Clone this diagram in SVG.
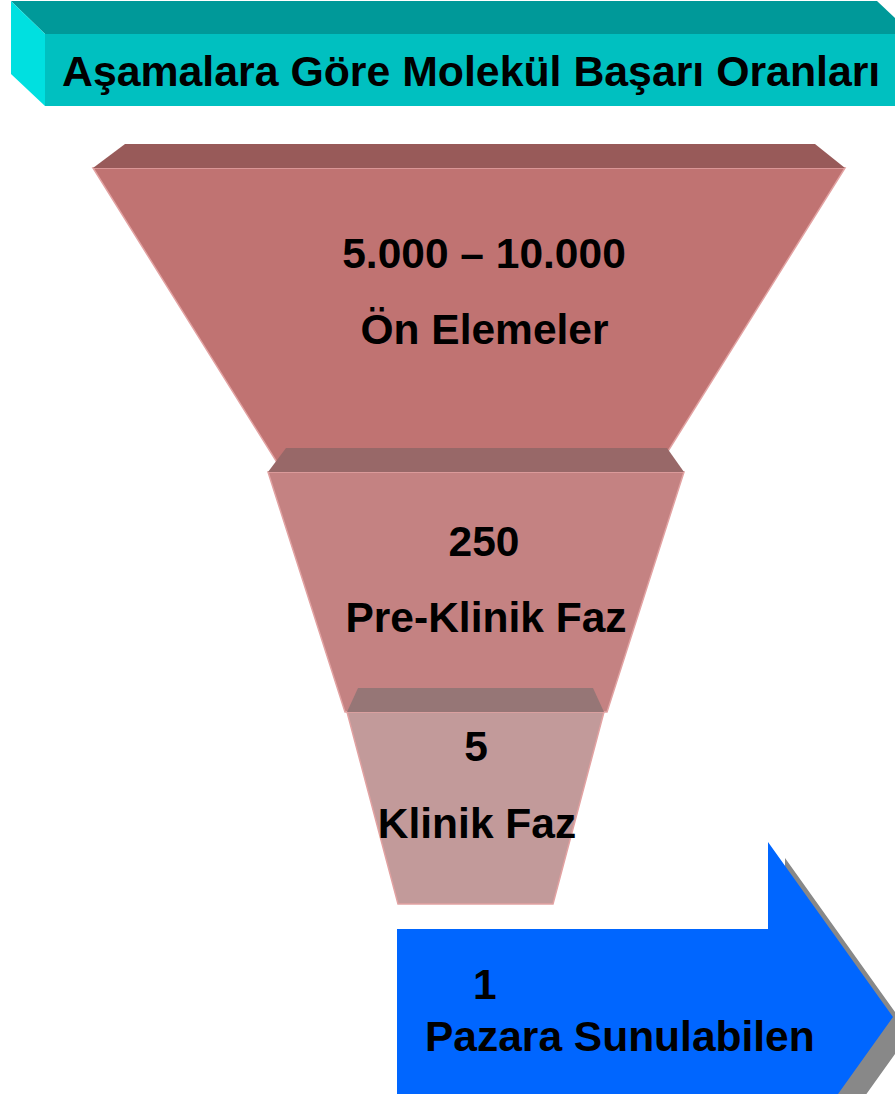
<svg xmlns="http://www.w3.org/2000/svg" width="895" height="1094" viewBox="0 0 895 1094">
<style>
text{font-family:"Liberation Sans",Arial,sans-serif;font-weight:bold;fill:#000;font-size:42.5px}
.c{text-anchor:middle}
.edge{stroke:#E2A2A2;stroke-width:1.5}
</style>
<rect width="895" height="1094" fill="#fff"/>
<g id="title">
<polygon points="11,1 877,1 912,34 45,34" fill="#009999"/>
<polygon points="11,1 45,34 45,106 11,74" fill="#00E0E0"/>
<rect x="45" y="34" width="850" height="72" fill="#00C0C0"/>
<text x="62" y="86" style="font-size:42.8px">Aşamalara Göre Molekül Başarı Oranları</text>
</g>
<g id="funnel1">
<polygon class="edge" points="93,168 845,168 655,472 283,472" fill="#C07372"/>
<polygon points="93,168 125,144 815,144 845,168" fill="#985A59"/>
<text class="c" x="484" y="268">5.000 – 10.000</text>
<text class="c" x="484.5" y="344">Ön Elemeler</text>
</g>
<g id="funnel2">
<polygon class="edge" points="268,472 684,472 607,712 345,712" fill="#C48282"/>
<polygon points="268,472 286,448 667,448 684,472" fill="#986868"/>
<text class="c" x="484" y="556">250</text>
<text class="c" x="486" y="632">Pre-Klinik Faz</text>
</g>
<g id="funnel3">
<polygon class="edge" points="347,712 604,712 553,904 398,904" fill="#C29A9A"/>
<polygon points="347,712 358,688 593,688 604,712" fill="#967676"/>
<text class="c" x="476" y="761">5</text>
<text class="c" x="477" y="838">Klinik Faz</text>
</g>
<g id="arrow">
<polygon points="414,945 785,945 785,858 910,1033 785,1208 785,1121 414,1121" fill="#888888"/>
<polygon points="397,929 768,929 768,842 893,1017 768,1192 768,1105 397,1105" fill="#0066FF"/>
<text x="473" y="999">1</text>
<text x="425" y="1051">Pazara Sunulabilen</text>
</g>
<g id="connectors"/>
</svg>
